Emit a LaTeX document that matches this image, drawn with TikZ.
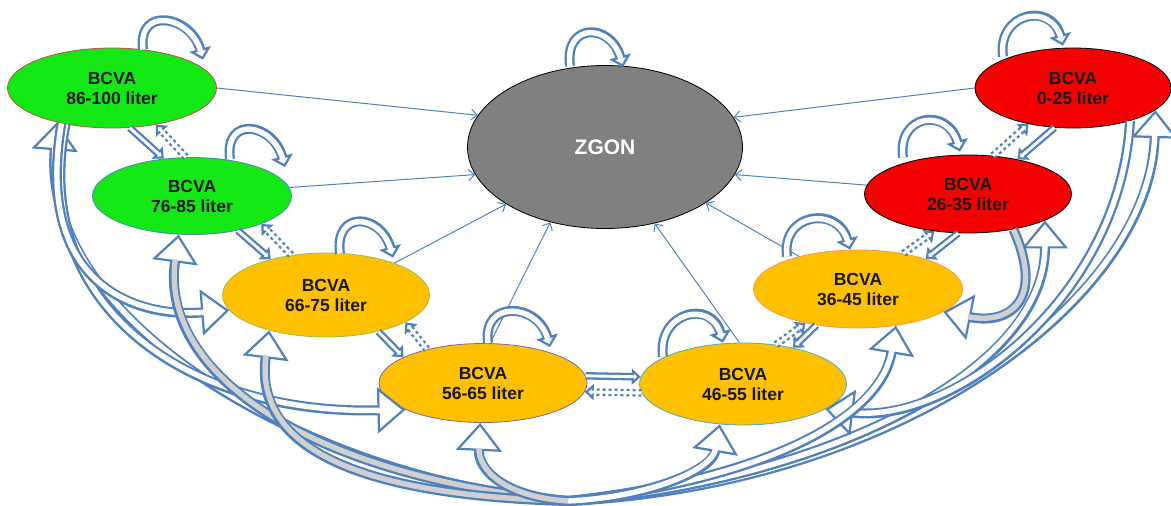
\documentclass[tikz,border=0pt]{standalone}
\usepackage{fontspec}
\setmainfont{Liberation Sans}
\usepackage{xcolor}
\definecolor{arblue}{RGB}{79,129,189}
\definecolor{stgreen}{RGB}{20,232,20}
\definecolor{storange}{RGB}{255,192,0}
\definecolor{stred}{RGB}{245,0,0}
\definecolor{stgray}{RGB}{128,128,128}
\definecolor{shgray}{RGB}{208,208,208}
\definecolor{brdred}{RGB}{192,80,77}
\definecolor{brdolive}{RGB}{155,187,89}
\definecolor{brdpurple}{RGB}{128,100,162}
\definecolor{brdteal}{RGB}{75,172,198}
\definecolor{brdorange}{RGB}{247,150,70}
\usetikzlibrary{shapes.geometric,arrows.meta}
% pusta strzalka: #2 szer. trzonu, #3 pol szer. grotu, #4 dl. grotu, #5 wypelnienie, #6 sciezka
\newcommand{\hollowarr}[6][]{%
\pgfmathsetmacro{\hw}{2*#3}\pgfmathsetmacro{\shin}{#4-3}\pgfmathsetmacro{\wdin}{#2-4.6}%
\draw[arblue,line width=#2pt,#1,-{Triangle[length=#4pt,width=\hw pt,fill=white,line width=2.2pt]}] #6;
\draw[#5,line width=\wdin pt,shorten >=\shin pt] #6;}
\newcommand{\bigarr}[2]{\hollowarr{10}{23}{28}{#1}{#2}}
\newcommand{\steparr}[3][]{\hollowarr[#1]{7.5}{8}{9}{white}{(#2) -- (#3)}}
\newcommand{\selfloop}[5]{\hollowarr{10}{11}{11}{white}{([xshift=#2pt,yshift=#3pt]#1.north) .. controls +(-6pt,44pt) and +(-12pt,44pt) .. ([xshift=#4pt,yshift=#5pt]#1.north)}}

\begin{document}
\begin{tikzpicture}[x=1pt,y=-1pt,
  bcva/.style={ellipse,align=center,inner sep=0pt,line width=0.8pt,text=black!90,font=\fontsize{17.5}{20}\selectfont\bfseries},
  tozgon/.style={arblue,line width=1pt,-{Straight Barb[length=6pt,width=11pt]}}]
\useasboundingbox (0,0) rectangle (1171,506);
% ---- stany ----
\node[bcva,fill=stgreen,draw=brdred,minimum width=209pt,minimum height=80pt] (n86) at (112,88) {BCVA\\86-100 liter};
\node[bcva,fill=stgreen,draw=arblue,minimum width=199pt,minimum height=77pt] (n76) at (192,196) {BCVA\\76-85 liter};
\node[bcva,fill=storange,draw=brdolive,minimum width=207pt,minimum height=84pt] (n66) at (326,295) {BCVA\\66-75 liter};
\node[bcva,fill=storange,draw=brdpurple,minimum width=208pt,minimum height=79pt] (n56) at (483,383) {BCVA\\56-65 liter};
\node[bcva,fill=storange,draw=brdteal,minimum width=207pt,minimum height=82pt] (n46) at (743,384) {BCVA\\46-55 liter};
\node[bcva,fill=storange,draw=brdorange,minimum width=209pt,minimum height=78pt] (n36) at (858,289) {BCVA\\36-45 liter};
\node[bcva,fill=stred,draw=black,minimum width=207pt,minimum height=78pt] (n26) at (968,194) {BCVA\\26-35 liter};
\node[bcva,fill=stred,draw=black,minimum width=196pt,minimum height=80pt] (n0) at (1073,88) {BCVA\\0-25 liter};
\node[ellipse,fill=stgray,draw=black,line width=0.8pt,minimum width=275pt,minimum height=163pt,text=white,font=\fontsize{21}{25}\selectfont\bfseries] (zgon) at (605,147) {ZGON};
\coordinate (hub) at (568,501);
% ---- przejscia do zgonu ----
\draw[tozgon] (n86.east) -- (zgon.166);
\draw[tozgon] (n76.5) -- (zgon.192);
\draw[tozgon] (n66.25) -- (zgon.210);
\draw[tozgon] (n56.80) -- (zgon.234);
\draw[tozgon] (n46.95) -- (zgon.303);
\draw[tozgon] (n36.151) -- (zgon.331);
\draw[tozgon] (n26.175) -- (zgon.348);
\draw[tozgon] (n0.west) -- (zgon.13);
% ---- duze luki od dolu ----
\bigarr{white}{(hub) .. controls (330,485) and (40,330) .. (n86.212)}
\bigarr{white}{(hub) .. controls (900,485) and (1150,300) .. (n0.345)}
\bigarr{white}{(hub) .. controls (800,485) and (1045,380) .. (n26.341)}
\bigarr{white}{(n86.218) .. controls (30,300) and (180,415) .. (n56.199)}
\bigarr{white}{(n86.215) .. controls (35,280) and (130,318) .. (n66.189)}
\bigarr{white}{(n0.330) .. controls (1120,300) and (950,425) .. (n46.343)}
\bigarr{shgray}{(hub) .. controls (300,475) and (160,370) .. (n76.251)}
\bigarr{white}{(hub) .. controls (760,480) and (880,420) .. (n36.316)}
\bigarr{shgray}{(n26.322) .. controls (1045,300) and (1010,325) .. (n36.345)}
\bigarr{shgray}{(hub) .. controls (340,495) and (255,440) .. (n66.212)}
\bigarr{white}{(hub) .. controls (650,497) and (712,470) .. (n46.240)}
\bigarr{shgray}{(hub) .. controls (505,497) and (478,470) .. (n56.266)}
% ---- sasiednie stany (ciagla = gorzej, przerywana = lepiej) ----
\steparr{n86.294}{n76.127}
\steparr[dashed]{n76.99}{n86.320}
\steparr{n76.323}{n66.147}
\steparr[dashed]{n66.131}{n76.338}
\steparr{n66.325}{n56.162}
\steparr[dashed]{n56.149}{n66.341}
\steparr{n56.4}{n46.176}
\steparr[dashed]{n46.185}{n56.355}
\steparr{n36.221}{n46.36}
\steparr[dashed]{n46.50}{n36.213}
\steparr{n26.256}{n36.24}
\steparr[dashed]{n36.38}{n26.228}
\steparr{n0.245}{n26.35}
\steparr[dashed]{n26.57}{n0.219}
% ---- petle ----
\selfloop{n86}{31}{-2}{91}{-12}
\selfloop{n76}{38}{-2}{93}{-10}
\selfloop{n66}{14}{-1}{67}{-5}
\selfloop{n56}{5}{0}{67}{-4}
\selfloop{n46}{-80}{-14}{-20}{0}
\selfloop{n36}{-71}{-7}{-8}{0}
\selfloop{n26}{-65}{-3}{-8}{3}
\selfloop{n0}{-70}{-9}{-10}{2}
\selfloop{zgon}{-35}{-1}{18}{-2}
\end{tikzpicture}
\end{document}
